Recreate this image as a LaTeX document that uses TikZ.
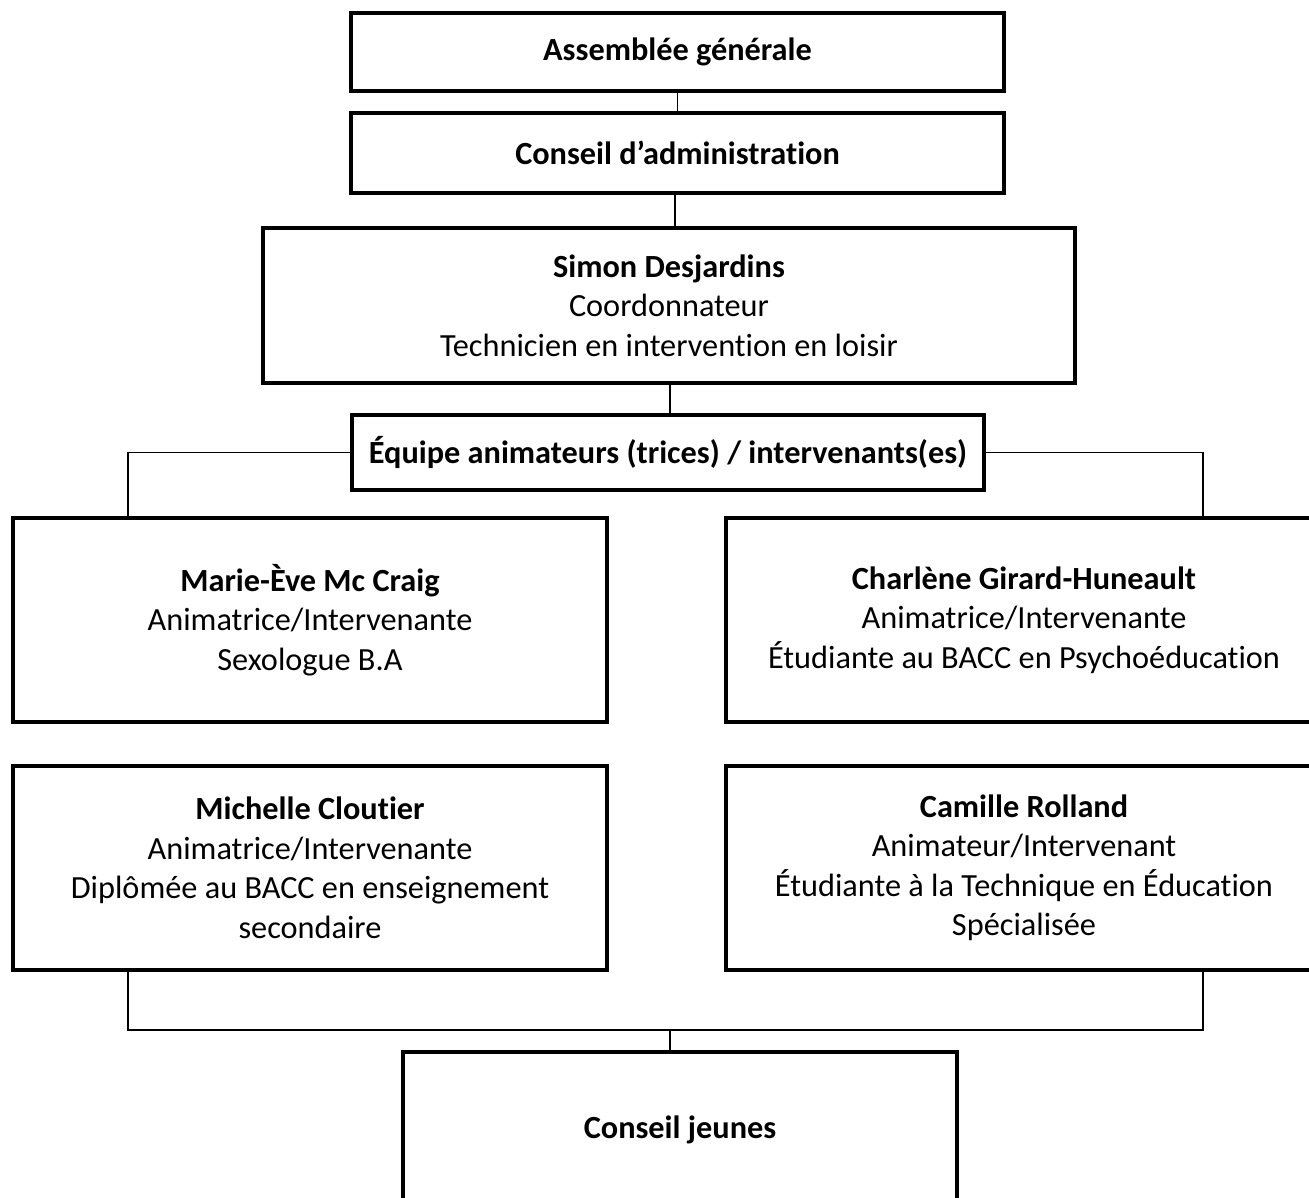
\documentclass[tikz,border=0pt]{standalone}
\usepackage{fontspec}
\setmainfont{Carlito}[Ligatures=NoCommon]
\usetikzlibrary{calc}
\begin{document}
\begin{tikzpicture}[x=1pt,y=-1pt,
  box/.style={draw, line width=3.6pt, rectangle, align=center, inner sep=0pt, outer sep=0pt,
    font=\fontsize{32.3}{39.5}\selectfont},
  conn/.style={draw, line width=1.3pt}]
\useasboundingbox (0,0) rectangle (1309,1198);
\clip (0,0) rectangle (1309,1198);
\node[box, minimum width=653, minimum height=78] (ag) at (677.5,52) {\textbf{Assemblée générale}};
\node[box, minimum width=653, minimum height=80] (ca) at (677.5,153) {\textbf{Conseil d’administration}};
\node[box, minimum width=812, minimum height=155] (sd) at (669,305.5)
  {\textbf{Simon Desjardins}\\Coordonnateur\\Technicien en intervention en loisir};
\node[box, minimum width=632, minimum height=75] (eq) at (668,452.5)
  {\textbf{Équipe animateurs (trices) / intervenants(es)}};
\node[box, minimum width=594, minimum height=204] (mm) at (310,620)
  {\textbf{Marie-Ève Mc Craig}\\Animatrice/Intervenante\\Sexologue B.A};
\node[box, minimum width=596, minimum height=204] (cg) at (1024,620)
  {\textbf{Charlène Girard-Huneault}\\Animatrice/Intervenante\\Étudiante au BACC en Psychoéducation};
\node[box, minimum width=594, minimum height=204] (mc) at (310,868)
  {\textbf{Michelle Cloutier}\\Animatrice/Intervenante\\Diplômée au BACC en enseignement\\secondaire};
\node[box, minimum width=596, minimum height=204] (cr) at (1024,868)
  {\textbf{Camille Rolland}\\Animateur/Intervenant\\Étudiante à la Technique en Éducation\\Spécialisée};
\node[box, minimum width=554, minimum height=156] (cj) at (680,1130)
  {\textbf{Conseil jeunes}};
\coordinate (ybar) at (0,1030);
\draw[conn] (ag.south) -- (ag.south |- ca.north);
\draw[conn] (ca.south -| 675,0) -- (sd.north -| 675,0);
\draw[conn] (sd.south -| 670,0) -- (eq.north -| 670,0);
\draw[conn] (eq.west) -| (mm.north -| 128,0);
\draw[conn] (eq.east) -| (cg.north -| 1203,0);
\draw[conn] (mc.south -| 128,0) |- (ybar -| 1203,0) -- (cr.south -| 1203,0);
\draw[conn] (cj.north -| 670,0) -- (ybar -| 670,0);
\end{tikzpicture}
\end{document}
